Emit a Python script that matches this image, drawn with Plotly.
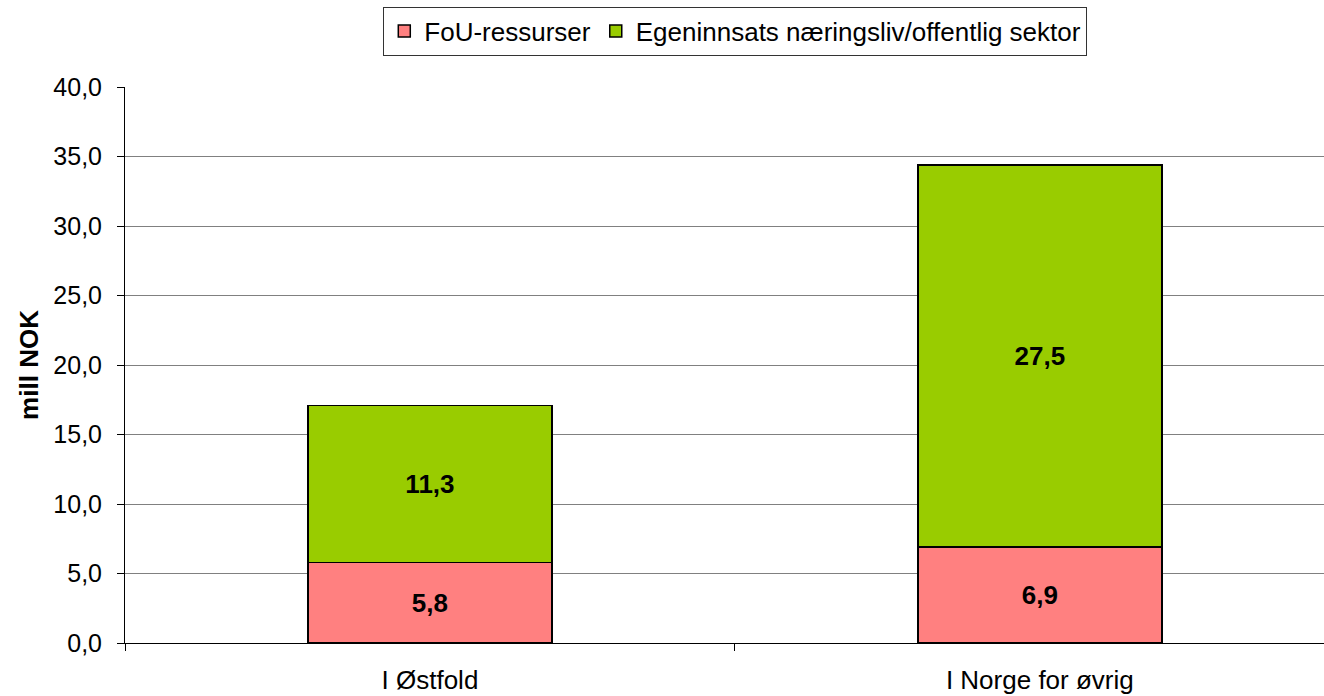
import plotly.graph_objects as go

categories = ["I Østfold", "I Norge for øvrig"]
fou = [5.8, 6.9]
egen = [11.3, 27.5]
series_names = ["FoU-ressurser", "Egeninnsats næringsliv/offentlig sektor"]
colors = ["#FF8080", "#99CC00"]

fig = go.Figure()
for name, vals, col in zip(series_names, [fou, egen], colors):
    fig.add_trace(go.Bar(
        x=categories, y=vals, name=name,
        marker=dict(color=col, line=dict(color="black", width=1.5)),
        width=0.4,
        text=[f"{v:.1f}".replace(".", ",") for v in vals],
        textposition="inside", insidetextanchor="middle",
        textfont=dict(family="Liberation Sans, Arial", size=26, color="black", weight="bold"),
        cliponaxis=False,
    ))

fig.update_layout(
    barmode="stack",
    width=1324, height=696,
    margin=dict(l=125, r=0, t=87, b=53, autoexpand=False),
    paper_bgcolor="white", plot_bgcolor="white",
    separators=", ",
    font=dict(family="Liberation Sans, Arial", size=25, color="black"),
    showlegend=True,
    legend=dict(
        orientation="h", x=0.509, xanchor="center", y=1.1007, yanchor="middle",
        bordercolor="#333333", borderwidth=1, font=dict(size=26),
        traceorder="normal", itemwidth=30, tracegroupgap=0,
    ),
    xaxis=dict(
        range=[-0.5, 1.466], showline=True, linecolor="black", linewidth=1,
        ticks="outside", tickson="boundaries", ticklen=7, tickcolor="black",
        showgrid=False, tickfont=dict(size=26), automargin=False,
        ticklabelstandoff=14,
    ),
    yaxis=dict(
        range=[0, 40], dtick=5, tickformat=".1f",
        showline=True, linecolor="black", linewidth=1,
        ticks="outside", ticklen=7, tickcolor="black",
        showgrid=True, gridcolor="#808080", gridwidth=1,
        zeroline=False, automargin=False,
        ticklabelstandoff=10,
        title=dict(text="<b>mill NOK</b>", font=dict(size=26), standoff=7),
        tickfont=dict(size=25),
    ),
    bargap=0.6,
)

fig.write_html(
    "out.html",
    config={"displayModeBar": False},
    post_script="document.body.style.margin='0px';document.body.style.overflow='hidden';",
)
